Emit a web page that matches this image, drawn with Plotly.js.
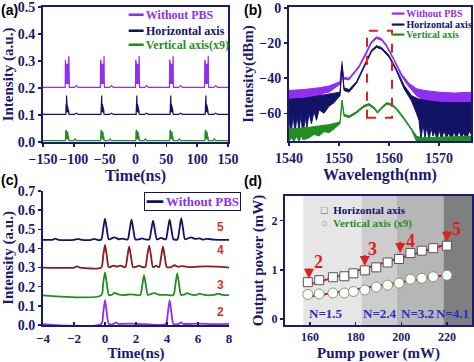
<!DOCTYPE html>
<html><head><meta charset="utf-8">
<script src="https://cdn.plot.ly/plotly-3.0.1.min.js"></script>
<style>html,body{margin:0;padding:0;background:#fff}#chart{width:474px;height:362px}</style>
</head><body><div id="chart"></div>
<script>
// ---------------- Panel (a): pulse trains ----------------
const aBurstCenters = [-110, -53, 4, 59, 116];
const aPurpleBase = 0.202;
const aPurpleDt = [-4.0,-3.6,-3.2,-2.8,-2.4,-2.0,-1.6,-1.2,-0.8,-0.4,0.0,0.4,0.8,1.2,1.6,2.0,2.4,2.8];
const aPurpleI  = [0.202,0.305,0.215,0.292,0.215,0.29,0.215,0.29,0.215,0.29,0.215,0.29,0.215,0.29,0.215,0.318,0.215,0.202];
const aPurpleBlobDt = [11, 12.5, 14, 15.5, 17];
const aPurpleBlobI  = [0.202, 0.207, 0.209, 0.206, 0.202];
const aNavyBase = 0.102;
const aNavyDt = [-3.0,-2.6,-2.2,-1.8,-1.4,-1.0,-0.6,-0.2,0.2,0.6,1.0,1.4,1.8,2.2];
const aNavyI  = [0.102,0.14,0.11,0.172,0.11,0.14,0.11,0.135,0.11,0.13,0.108,0.12,0.106,0.102];
const aNavyBlobDt = [11, 12.5, 14, 15.5, 17];
const aNavyBlobI  = [0.102, 0.105, 0.107, 0.105, 0.102];
const aGreenBase = 0.005;
const aGreenDt = [-3.5,-3.1,-2.7,-2.3,-1.9,-1.5,-1.1,-0.7,-0.3,0.1,0.5,0.9,1.3,1.7,2.1];
const aGreenI  = [0.005,0.04,0.01,0.045,0.01,0.04,0.01,0.04,0.01,0.038,0.01,0.03,0.008,0.02,0.005];
const aGreenBlobDt = [10, 12, 14];
const aGreenBlobI  = [0.005, 0.012, 0.005];

// ---------------- Panel (b): spectra (upper / lower envelopes of the noisy traces) ----------------
const bPurpleUpX = [1540,1543,1546,1548,1550.2,1550.6,1550.9,1552,1554,1555.5,1556.5,1557.5,1558.5,1559.5,1561,1562.5,1564,1565.5,1567,1570,1573,1576.4];
const bPurpleUpY = [-47,-46.5,-45.5,-44.5,-42,-30.5,-39.5,-40,-33,-25,-19,-16.5,-17.5,-21,-29,-37.5,-43,-46,-47,-48,-48.5,-48];
const bPurpleLoX = [1540,1541,1542,1543,1544,1545,1546,1547,1548,1550.2,1550.6,1550.9,1552,1554,1555.5,1556.5,1557.5,1558.5,1559.5,1561,1562.5,1564,1565.5,1566.5,1567.5,1568.5,1569.5,1570.5,1571.5,1572.5,1573.5,1574.5,1575.5,1576.4];
const bPurpleLoY = [-53,-52,-52.5,-51,-51.5,-50,-50,-48.5,-48,-43.5,-32,-40.5,-41,-34,-26,-20,-17.5,-18.5,-22,-30,-39,-45,-50,-52,-53,-54,-55,-54.5,-56,-55,-57,-56,-57,-56];
const bNavyUpX = [1540,1543,1546,1548,1550.2,1550.6,1551,1552,1553.5,1555,1556.5,1557.5,1558.5,1560,1561.5,1563,1564.5,1566,1568,1571,1574,1576.4];
const bNavyUpY = [-52,-51.5,-50,-49,-48,-32.5,-45.5,-46.5,-42,-33,-24,-21.5,-22.5,-27,-35,-44,-50,-52,-53,-54,-54,-54];
const bNavyLoX = [1540,1540.4,1540.8,1541.2,1541.6,1542,1542.4,1542.8,1543.2,1543.6,1544,1544.5,1545,1545.5,1546,1547,1548,1549,1550.2,1550.6,1551,1552,1553.5,1555,1556.5,1557.5,1558.5,1560,1561.5,1563,1564.5,1565.5,1566,1566.4,1566.8,1567.2,1567.6,1568,1568.4,1568.8,1569.2,1569.6,1570,1570.5,1571,1571.5,1572,1572.5,1573,1573.5,1574,1574.5,1575,1575.5,1576,1576.4];
const bNavyLoY = [-62,-74,-60,-72,-61,-70,-60,-75,-62,-68,-60,-66,-59,-64,-58,-60,-56,-54,-50,-33.5,-47,-48,-43,-34,-25,-22.5,-23.5,-28,-36,-46,-53,-60,-64,-75,-66,-74,-67,-76,-68,-73,-70,-76,-69,-75,-70,-74,-71,-76,-70,-75,-70,-74,-71,-76,-70,-72];
const bGreenUpX = [1540,1544,1548,1550.2,1550.6,1551,1552,1553.5,1555,1556,1557,1557.7,1558.5,1559.5,1560.5,1561.5,1563,1564.5,1565.5,1566.5,1576.4];
const bGreenUpY = [-69,-68,-66.5,-65,-52.5,-60.5,-61.5,-59,-55.5,-54.5,-56.5,-59,-56.5,-54,-54.5,-57,-62.5,-68.5,-73,-74,-73];
const bGreenLoX = [1540,1540.5,1541,1541.5,1542,1542.5,1543,1544,1545,1546,1547,1548,1549,1550.2,1550.6,1551,1552,1553.5,1555,1556,1557,1557.7,1558.5,1559.5,1560.5,1561.5,1563,1564.5,1565.5,1566.5,1576.4];
const bGreenLoY = [-76,-74,-76,-73,-76,-73,-75,-74,-72,-73,-70.5,-71,-69,-66,-53.5,-61.5,-62.5,-60,-56.5,-55.5,-57.5,-60,-57.5,-55,-55.5,-58,-63.5,-69.5,-76,-77,-77];
const bBoxX = [1555.6, 1560.6];
const bBoxY = [-62.5, -13];

// ---------------- Panel (c): pulse bunches for N = 2..5 ----------------
const c2X = [-4,-0.25,-0.12,0,0.12,0.25,0.55,0.7,0.85,1.5,2.5,3.92,4.05,4.17,4.29,4.42,4.75,4.9,5.05,6,7,8];
const c2Y = [0.005,0.005,0.06,0.13,0.06,0.005,0.006,0.014,0.006,0.007,0.005,0.005,0.06,0.13,0.06,0.005,0.006,0.013,0.006,0.007,0.005,0.006];
const c3X = [-4,-0.25,-0.12,0,0.12,0.25,0.45,0.62,0.85,1.2,1.6,2.0,2.27,2.4,2.52,2.64,2.77,3.0,3.2,3.5,4.0,4.41,4.54,4.66,4.78,4.91,5.15,5.3,5.5,5.9,6.1,6.4,7.0,7.3,7.6,8];
const c3Y = [0.155,0.155,0.215,0.275,0.215,0.157,0.158,0.168,0.16,0.156,0.16,0.157,0.156,0.205,0.26,0.205,0.157,0.163,0.166,0.158,0.157,0.157,0.21,0.27,0.21,0.157,0.16,0.167,0.16,0.157,0.164,0.157,0.157,0.164,0.157,0.156];
const c4X = [-4,-2,-1.8,-1.6,-0.25,-0.12,0,0.12,0.25,0.55,0.75,1.0,1.31,1.44,1.56,1.68,1.81,2.0,2.2,2.4,2.6,2.72,2.85,2.97,3.1,3.3,3.49,3.62,3.74,3.86,3.99,4.3,4.5,4.7,5.0,5.5,6.0,6.5,7.2,8];
const c4Y = [0.3,0.3,0.306,0.3,0.3,0.36,0.418,0.36,0.302,0.31,0.305,0.31,0.302,0.355,0.41,0.355,0.302,0.304,0.31,0.303,0.303,0.36,0.415,0.36,0.302,0.31,0.302,0.355,0.41,0.355,0.302,0.304,0.312,0.304,0.308,0.302,0.305,0.306,0.305,0.3];
const c5X = [-4,-3.4,-3.2,-3.0,-2,-1.75,-1.5,-0.9,-0.7,-0.5,-0.25,-0.12,0,0.12,0.25,0.6,0.9,1.15,1.46,1.59,1.71,1.83,1.96,2.2,2.4,2.6,2.85,2.98,3.1,3.22,3.35,3.6,3.92,4.05,4.17,4.29,4.42,4.67,4.8,4.92,5.04,5.17,5.55,5.8,6.1,6.35,6.6,7.0,8];
const c5Y = [0.445,0.445,0.451,0.445,0.445,0.45,0.445,0.445,0.45,0.445,0.445,0.5,0.555,0.5,0.447,0.458,0.448,0.451,0.447,0.498,0.55,0.498,0.447,0.448,0.452,0.447,0.447,0.495,0.545,0.495,0.447,0.455,0.447,0.498,0.55,0.498,0.448,0.447,0.5,0.558,0.5,0.448,0.458,0.45,0.452,0.446,0.45,0.446,0.445];

// ---------------- Panel (d): output power vs pump power ----------------
const dPump = [159,164,170,175,179,184,189,194,199,204,209,214,220];
const dHorizontal = [0.75,0.79,0.85,0.87,0.93,0.99,1.05,1.15,1.22,1.34,1.39,1.44,1.49];
const dVertical   = [0.50,0.51,0.53,0.53,0.56,0.59,0.65,0.69,0.73,0.81,0.83,0.86,0.89];
const dFitX = [159, 220];
const dFitH = [0.69, 1.52];
const dFitV = [0.45, 0.90];
const dBandEdges = [157, 182.5, 198, 218.5, 231];
const dBandN = ['N=1.5', 'N=2.4', 'N=3.2', 'N=4.1'];
const dBandLabelX = [167, 190.7, 207, 222.6];
const dArrowX = [159.5, 184, 199.5, 220];
const dArrowTail = [1.06, 1.33, 1.6, 1.82];
const dArrowHead = [0.82, 1.08, 1.34, 1.57];
const dArrowLabels = ['2', '3', '4', '5'];
const dArrowLabelX = [163.5, 187.5, 204, 224];
const dArrowLabelY = [1.16, 1.43, 1.58, 1.82];

// ---------------- styling ----------------
const W = 474, H = 362, MB = 22;
const PX = p => p / W, PY = p => 1 - p / (H - MB);
const NAVY = '#121266', AX = '#1a1a6e', PURPLE = '#8f2ff2', GREEN = '#1f8f1f', DRED = '#8b1c1c';
const SERIF = 'Liberation Serif';
const SANS = 'Liberation Sans';
const tickFont = s => ({family: SERIF, size: s, color: AX, weight: 'bold'});
const titleFont = s => ({family: SERIF, size: s, color: AX, weight: 'bold'});

function buildTrain(centers, dt, vals, blobDt, blobI, base) {
  const x = [-150], y = [base];
  centers.forEach(c => {
    dt.forEach((d, i) => { x.push(c + d); y.push(vals[i]); });
    blobDt.forEach((d, i) => { x.push(c + d); y.push(blobI[i]); });
  });
  x.push(150); y.push(base);
  return {x, y};
}
const aP = buildTrain(aBurstCenters, aPurpleDt, aPurpleI, aPurpleBlobDt, aPurpleBlobI, aPurpleBase);
const aN = buildTrain(aBurstCenters, aNavyDt, aNavyI, aNavyBlobDt, aNavyBlobI, aNavyBase);
const aG = buildTrain(aBurstCenters, aGreenDt, aGreenI, aGreenBlobDt, aGreenBlobI, aGreenBase);

const traces = [
  {x: aP.x, y: aP.y, xaxis: 'x', yaxis: 'y', mode: 'lines', line: {color: PURPLE, width: 1.2}, name: 'Without PBS'},
  {x: aN.x, y: aN.y, xaxis: 'x', yaxis: 'y', mode: 'lines', line: {color: NAVY, width: 1.2}, name: 'Horizontal axis'},
  {x: aG.x, y: aG.y, xaxis: 'x', yaxis: 'y', mode: 'lines', line: {color: GREEN, width: 1.2}, name: 'Vertical axis(x9)'},

  {x: bPurpleUpX, y: bPurpleUpY, xaxis: 'x2', yaxis: 'y2', mode: 'lines', line: {color: PURPLE, width: 1}, name: 'Without PBS'},
  {x: bPurpleLoX, y: bPurpleLoY, xaxis: 'x2', yaxis: 'y2', mode: 'lines', line: {color: PURPLE, width: 1}, fill: 'tonexty', fillcolor: PURPLE, name: 'Without PBS'},
  {x: bNavyUpX, y: bNavyUpY, xaxis: 'x2', yaxis: 'y2', mode: 'lines', line: {color: NAVY, width: 1}, name: 'Horizontal axis'},
  {x: bNavyLoX, y: bNavyLoY, xaxis: 'x2', yaxis: 'y2', mode: 'lines', line: {color: NAVY, width: 1}, fill: 'tonexty', fillcolor: NAVY, name: 'Horizontal axis'},
  {x: bGreenUpX, y: bGreenUpY, xaxis: 'x2', yaxis: 'y2', mode: 'lines', line: {color: GREEN, width: 1}, name: 'Vertical axis'},
  {x: bGreenLoX, y: bGreenLoY, xaxis: 'x2', yaxis: 'y2', mode: 'lines', line: {color: GREEN, width: 1}, fill: 'tonexty', fillcolor: GREEN, name: 'Vertical axis'},

  {x: c5X, y: c5Y, xaxis: 'x3', yaxis: 'y3', mode: 'lines', line: {color: NAVY, width: 1.8, shape: 'spline', smoothing: 0.7}, name: 'Without PBS'},
  {x: c4X, y: c4Y, xaxis: 'x3', yaxis: 'y3', mode: 'lines', line: {color: DRED, width: 1.8, shape: 'spline', smoothing: 0.7}, name: 'N=4'},
  {x: c3X, y: c3Y, xaxis: 'x3', yaxis: 'y3', mode: 'lines', line: {color: GREEN, width: 1.8, shape: 'spline', smoothing: 0.7}, name: 'N=3'},
  {x: c2X, y: c2Y, xaxis: 'x3', yaxis: 'y3', mode: 'lines', line: {color: PURPLE, width: 1.8, shape: 'spline', smoothing: 0.7}, name: 'N=2'},

  {x: dFitX, y: dFitH, xaxis: 'x4', yaxis: 'y4', mode: 'lines', line: {color: '#e01010', width: 2}, name: 'fit H'},
  {x: dFitX, y: dFitV, xaxis: 'x4', yaxis: 'y4', mode: 'lines', line: {color: '#e01010', width: 2}, name: 'fit V'},
  {x: dPump, y: dHorizontal, xaxis: 'x4', yaxis: 'y4', mode: 'markers', marker: {symbol: 'square', size: 9, color: '#ffffff', line: {color: '#555555', width: 1}}, name: 'Horizontal axis'},
  {x: dPump, y: dVertical, xaxis: 'x4', yaxis: 'y4', mode: 'markers', marker: {symbol: 'circle', size: 10, color: '#ffffff', line: {color: '#7a9a7a', width: 1}}, name: 'Vertical axis (x9)'}
];

const axBase = {showline: true, linecolor: AX, linewidth: 2, ticks: 'outside', ticklen: 3, tickwidth: 1.5, tickcolor: AX,
  showgrid: false, zeroline: false, mirror: true, automargin: false, tickangle: 0};

const layout = {
  width: W, height: H, margin: {l: 0, r: 0, t: 0, b: MB}, showlegend: false,
  paper_bgcolor: '#ffffff', plot_bgcolor: 'rgba(0,0,0,0)',
  xaxis: Object.assign({}, axBase, {domain: [PX(43), PX(228)], range: [-150, 150], dtick: 50, anchor: 'y', tickfont: tickFont(14),
    title: {text: 'Time(ns)', font: titleFont(16), standoff: 4}}),
  yaxis: Object.assign({}, axBase, {domain: [PY(142), PY(7)], range: [0, 0.5], dtick: 0.1, tickformat: '.1f', anchor: 'x', tickfont: tickFont(14),
    title: {text: 'Intensity (a.u.)', font: titleFont(15), standoff: 2}}),
  xaxis2: Object.assign({}, axBase, {domain: [PX(289), PX(471)], range: [1540, 1576.4], tick0: 1540, dtick: 10, anchor: 'y2', tickfont: tickFont(14),
    title: {text: 'Wavelength(nm)', font: titleFont(16), standoff: 4}}),
  yaxis2: Object.assign({}, axBase, {domain: [PY(141), PY(7)], range: [-75.8, 0.5], tickvals: [0, -20, -40, -60], anchor: 'x2', tickfont: tickFont(14),
    title: {text: 'Intensity(dBm)', font: titleFont(15), standoff: 2}}),
  xaxis3: Object.assign({}, axBase, {mirror: false, ticks: 'inside', domain: [PX(43), PX(229)], range: [-4, 8], dtick: 2, anchor: 'y3', tickfont: tickFont(13),
    title: {text: 'Time(ns)', font: titleFont(15), standoff: 4}}),
  yaxis3: Object.assign({}, axBase, {mirror: false, domain: [PY(325), PY(191)], range: [0, 0.7], dtick: 0.1, tickformat: '.1f', anchor: 'x3', tickfont: tickFont(14),
    title: {text: 'Intensity (a.u.)', font: titleFont(15), standoff: 2}}),
  xaxis4: Object.assign({}, axBase, {ticks: 'inside', domain: [PX(285), PX(472)], range: [149, 231], tickvals: [160, 180, 200, 220], anchor: 'y4', tickfont: tickFont(12),
    title: {text: 'Pump power (mW)', font: titleFont(15), standoff: 4}}),
  yaxis4: Object.assign({}, axBase, {domain: [PY(325), PY(196)], range: [-0.12, 2.5], tickvals: [0, 1, 2], anchor: 'x4', tickfont: tickFont(12),
    title: {text: 'Output power (mW)', font: titleFont(15), standoff: 4}}),
  shapes: [],
  annotations: []
};

// red dashed window in (b)
layout.shapes.push({type: 'rect', xref: 'x2', yref: 'y2', x0: bBoxX[0], x1: bBoxX[1], y0: bBoxY[0], y1: bBoxY[1],
  line: {color: '#e02020', width: 2, dash: 'dash'}, fillcolor: 'rgba(0,0,0,0)'});
// shaded N-regions in (d)
const bandColors = ['#e6e6e6', '#cdcdcd', '#b6b6b6', '#7f7f7f'];
for (let i = 0; i < dBandN.length; i++) {
  layout.shapes.push({type: 'rect', xref: 'x4', yref: 'y4 domain', x0: dBandEdges[i], x1: dBandEdges[i + 1], y0: 0, y1: 1,
    fillcolor: bandColors[i], line: {width: 0}, layer: 'below'});
  layout.annotations.push({xref: 'x4', yref: 'y4', x: dBandLabelX[i], y: 0.12, text: dBandN[i], showarrow: false,
    font: {family: SERIF, size: 13, color: '#2b2bc8', weight: 'bold'}});
}
for (let i = 0; i < dArrowX.length; i++) {
  layout.annotations.push({xref: 'x4', yref: 'y4', axref: 'x4', ayref: 'y4', x: dArrowX[i], y: dArrowHead[i], ax: dArrowX[i], ay: dArrowTail[i],
    text: '', showarrow: true, arrowhead: 2, arrowsize: 1, arrowwidth: 2, arrowcolor: '#e02020'});
  layout.annotations.push({xref: 'x4', yref: 'y4', x: dArrowLabelX[i], y: dArrowLabelY[i], text: dArrowLabels[i], showarrow: false,
    font: {family: SERIF, size: 18, color: '#e02020', weight: 'bold'}});
}

function note(text, x, y, opts) {
  layout.annotations.push(Object.assign({xref: 'paper', yref: 'paper', x: PX(x), y: PY(y), text: text, showarrow: false,
    xanchor: 'left', yanchor: 'middle'}, opts));
}
// panel letters
const letterFont = {family: SANS, size: 14, color: '#000', weight: 'bold'};
note('(a)', 0, 1, {yanchor: 'top', font: letterFont, borderpad: 0});
note('(b)', 243, 1, {yanchor: 'top', font: letterFont, borderpad: 0});
note('(c)', 0, 171, {yanchor: 'top', font: letterFont, borderpad: 0});
note('(d)', 243, 172, {yanchor: 'top', font: letterFont, borderpad: 0});

// legend (a)
const lfA = c => ({family: SERIF, size: 12, color: c, weight: 'bold'});
note('━━ Without PBS', 127, 15.5, {font: lfA(PURPLE), borderpad: 0});
note('━━ Horizontal axis', 127, 30.5, {font: lfA(NAVY), borderpad: 0});
note('━━ Vertical axis(x9)', 127, 45.5, {font: lfA(GREEN), borderpad: 0});
// legend (b)
const lfB = c => ({family: SERIF, size: 10, color: c, weight: 'bold'});
note('━━ Without PBS', 390, 14, {font: lfB(PURPLE), borderpad: 0});
note('━━ Horizontal axis', 390, 24.5, {font: lfB(NAVY), borderpad: 0});
note('━━ Vertical axis', 390, 35, {font: lfB(GREEN), borderpad: 0});
// legend (c)
note('<span style="color:' + NAVY + '">━━</span> Without PBS', 144, 201, {font: {family: SERIF, size: 13, color: PURPLE, weight: 'bold'},
  bordercolor: NAVY, borderwidth: 1, bgcolor: '#ffffff', borderpad: 1});
// labels 5,4,3,2 in (c)
const cLabelY = [0.51, 0.39, 0.21, 0.07];
const cLabels = ['5', '4', '3', '2'];
cLabels.forEach((t, i) => layout.annotations.push({xref: 'x3', yref: 'y3', x: 7.45, y: cLabelY[i], text: t, showarrow: false,
  font: {family: SANS, size: 12, color: '#d8322a', weight: 'bold'}}));
// legend (d)
note('<span style="color:#555555">□</span>  Horizontal axis', 320, 210, {font: {family: SERIF, size: 11, color: NAVY, weight: 'bold'}, borderpad: 0});
note('<span style="color:#7a9a7a">○</span>  Vertical axis (x9)', 320, 223, {font: {family: SERIF, size: 11, color: GREEN, weight: 'bold'}, borderpad: 0});

Plotly.newPlot('chart', traces, layout, {staticPlot: true, displayModeBar: false});
</script>
</body></html>
